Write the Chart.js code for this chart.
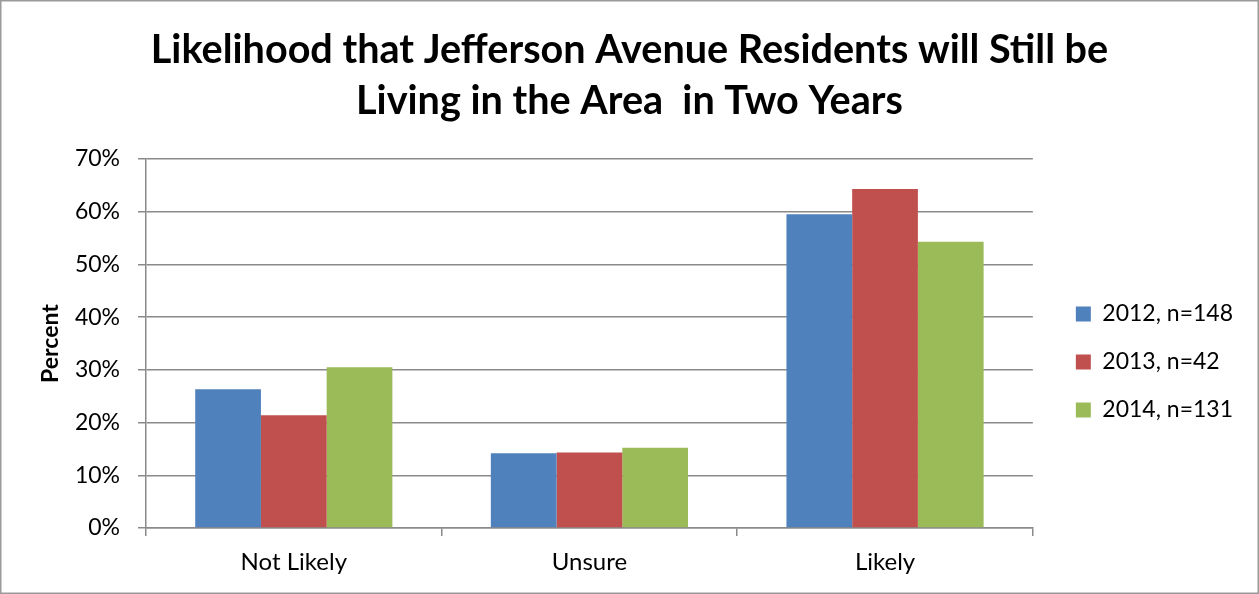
<!DOCTYPE html>
<html>
<head>
<meta charset="utf-8">
<script src="https://cdn.jsdelivr.net/npm/chart.js@4"></script>
<style>
  html, body { margin: 0; padding: 0; background: #fff; }
  #wrap { width: 1259px; height: 594px; }
</style>
</head>
<body>
<div id="wrap"><canvas id="likelihoodChart"></canvas></div>
<script>
// Values (percent of residents)
const categories = ["Not Likely", "Unsure", "Likely"];
const seriesNames = ["2012, n=148", "2013, n=42", "2014, n=131"];
const values2012 = [26.3, 14.2, 59.5];
const values2013 = [21.4, 14.3, 64.3];
const values2014 = [30.5, 15.2, 54.3];
const seriesColors = ["#4F81BD", "#C0504D", "#9BBB59"];
const yTicks = [0, 10, 20, 30, 40, 50, 60, 70];
const titleLines = ["Likelihood that Jefferson Avenue Residents will Still be", "Living in the Area  in Two Years"];

const FONT = "Lato, 'Open Sans', sans-serif";
const GRID = "#8a8a8a";

// Size the title so the first line spans about as wide as in the reference
function fitFontSize(text, weight, targetWidth) {
    const c = document.createElement("canvas").getContext("2d");
    c.font = weight + " 40px " + FONT;
    return Math.round(40 * targetWidth / c.measureText(text).width * 10) / 10;
}
const titleSize = fitFontSize(titleLines[0], "bold", 958);

// White background and thin frame round the whole chart
const framePlugin = {
    id: "frame",
    beforeDraw(chart) {
        const ctx = chart.ctx;
        ctx.save();
        ctx.fillStyle = "#fff";
        ctx.fillRect(0, 0, chart.width, chart.height);
        ctx.strokeStyle = "#9a9a9a";
        ctx.lineWidth = 1.5;
        ctx.strokeRect(0.75, 0.75, chart.width - 1.5, chart.height - 1.5);
        ctx.restore();
    }
};

// Move the legend a bit away from the plot and down, as in the reference
const legendShift = {
    id: "legendShift",
    afterLayout(chart) {
        const lg = chart.legend;
        if (!lg) return;
        lg.left += 18; lg.right += 18;
        lg.top += 61; lg.bottom += 61;
    }
};

const ctx = document.getElementById("likelihoodChart").getContext("2d");
new Chart(ctx, {
    type: "bar",
    data: {
        labels: categories,
        datasets: [
            { label: seriesNames[0], data: values2012, backgroundColor: seriesColors[0] },
            { label: seriesNames[1], data: values2013, backgroundColor: seriesColors[1] },
            { label: seriesNames[2], data: values2014, backgroundColor: seriesColors[2] }
        ]
    },
    options: {
        responsive: true,
        maintainAspectRatio: false,
        animation: false,
        datasets: {
            bar: { categoryPercentage: 0.667, barPercentage: 1.0 }
        },
        // equal side padding keeps the title centred on the whole canvas
        layout: { padding: { top: 25, right: 34, bottom: 17, left: 34 } },
        scales: {
            x: {
                afterFit: s => { s.height = 49; },
                grid: { display: true, drawOnChartArea: false, offset: true, tickLength: 8, color: GRID, lineWidth: 1.5 },
                border: { color: GRID, width: 1.5 },
                ticks: { color: "#000", font: { family: FONT, size: 24 }, padding: 12 }
            },
            y: {
                afterFit: s => { s.width = 112; },
                min: yTicks[0],
                max: yTicks[yTicks.length - 1],
                ticks: {
                    stepSize: yTicks[1] - yTicks[0],
                    color: "#000",
                    font: { family: FONT, size: 23 },
                    padding: 18,
                    callback: v => v + "%"
                },
                grid: { color: GRID, lineWidth: 1.5, tickLength: 8 },
                border: { color: GRID, width: 1.5 },
                title: {
                    display: true,
                    text: "Percent",
                    color: "#000",
                    font: { family: FONT, size: 23, weight: "bold" },
                    padding: { top: 3, bottom: 0 }
                }
            }
        },
        plugins: {
            title: {
                display: true,
                text: titleLines,
                color: "#000",
                font: { family: FONT, size: titleSize, weight: "bold", lineHeight: 51 / titleSize },
                padding: { top: 0, bottom: 32 }
            },
            legend: {
                position: "right",
                labels: {
                    color: "#000",
                    font: { family: FONT, size: 23 },
                    boxWidth: 15,
                    boxHeight: 15,
                    padding: 25
                }
            },
            tooltip: { enabled: false }
        }
    },
    plugins: [framePlugin, legendShift]
});
</script>
</body>
</html>
